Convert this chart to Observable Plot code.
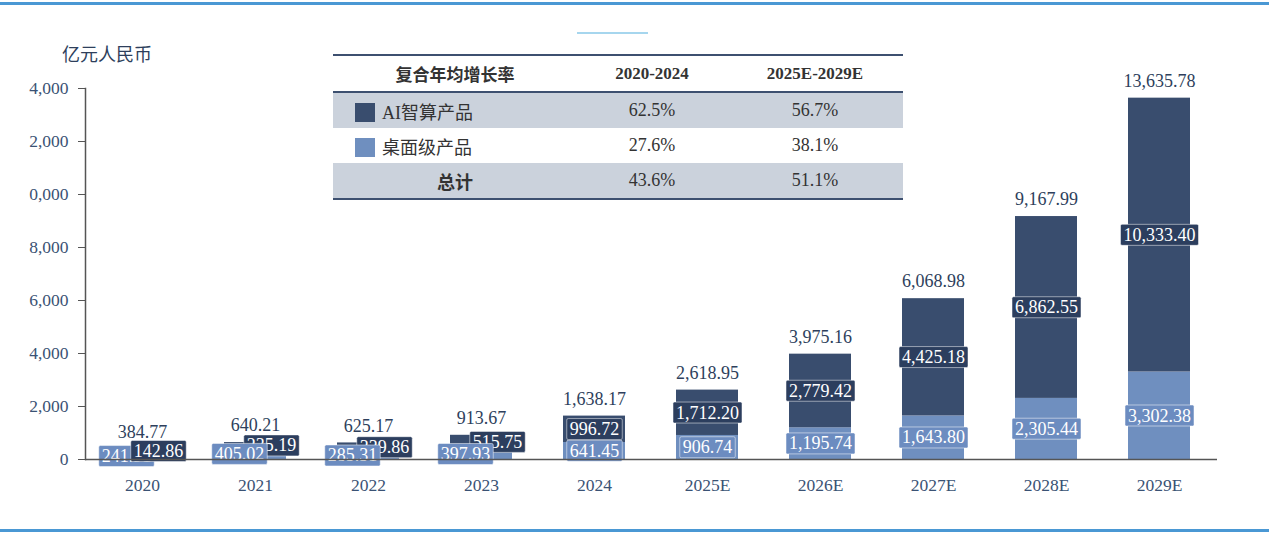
<!DOCTYPE html>
<html>
<head>
<meta charset="utf-8">
<script src="https://cdn.jsdelivr.net/npm/d3@7"></script>
<script src="https://cdn.jsdelivr.net/npm/@observablehq/plot@0.6"></script>
<style>
  html, body { margin: 0; padding: 0; background: #fff; }
  #wrap { position: relative; width: 1269px; height: 533px; overflow: hidden; font-family: "Liberation Serif", "Noto Sans CJK SC", serif; }
  #topline { position: absolute; left: 0; top: 2px; width: 1269px; height: 3px; background: #4a98d4; }
  #bottomline { position: absolute; left: 0; top: 529px; width: 1269px; height: 3px; background: #4a98d4; }
  #shortline { position: absolute; left: 577px; top: 32px; width: 71px; height: 2px; background: #a6d6ee; }
  #ylabel { position: absolute; left: 62px; top: 40px; font-size: 18px; color: #2e3f5c; font-family: "Noto Sans CJK SC", serif; }
  #chart { position: absolute; left: 0; top: 0; }
  #chart svg g[aria-label="y-axis tick"] path { stroke: #555; }
  #cagr { position: absolute; left: 333px; top: 54px; width: 570px; border-collapse: collapse; font-size: 18px; color: #333; }
  #cagr td { height: 35px; padding: 0; text-align: center; font-family: "Liberation Serif", "Noto Sans CJK SC", serif; }
  #cagr tr.head td { border-top: 2px solid #3d5070; border-bottom: 2px solid #3d5070; font-weight: bold; font-size: 17px; }
  #cagr tr.last td { border-bottom: 2px solid #3d5070; }
  #cagr tr.shade td { background: #cbd2dc; }
  #cagr td.name { text-align: left; padding-left: 22px; }
  #cagr td.name span.sw { display: inline-block; width: 20px; height: 19px; vertical-align: -3px; margin-right: 7px; }
  #cagr td.total { text-align: center; font-weight: bold; }
</style>
</head>
<body>
<div id="wrap">
  <div id="topline"></div>
  <div id="shortline"></div>
  <div id="ylabel"></div>
  <div id="chart"></div>
  <table id="cagr"></table>
  <div id="bottomline"></div>
</div>
<script>
// ---- data ----
const years = ["2020", "2021", "2022", "2023", "2024", "2025E", "2026E", "2027E", "2028E", "2029E"];
const aiValues = [142.86, 235.19, 339.86, 515.75, 996.72, 1712.20, 2779.42, 4425.18, 6862.55, 10333.40];
const desktopValues = [241.91, 405.02, 285.31, 397.93, 641.45, 906.74, 1195.74, 1643.80, 2305.44, 3302.38];
const totalValues = [384.77, 640.21, 625.17, 913.67, 1638.17, 2618.95, 3975.16, 6068.98, 9167.99, 13635.78];
const seriesNames = ["AI智算产品", "桌面级产品"];
const yTicks = [0, 2000, 4000, 6000, 8000, 10000, 12000, 14000];
const yTickLabels = ["0", "2,000", "4,000", "6,000", "8,000", "0,000", "2,000", "4,000"];
const yUnit = "亿元人民币";
const cagrHeader = ["复合年均增长率", "2020-2024", "2025E-2029E"];
const cagrRows = ["AI智算产品", "桌面级产品", "总计"];
const cagr2020_2024 = ["62.5%", "27.6%", "43.6%"];
const cagr2025_2029 = ["56.7%", "38.1%", "51.1%"];

// ---- styles ----
const darkColor = "#394d6e";
const lightColor = "#6f8fbf";
const darkBox = "#2c3e5e";
const lightBox = "#6c8cc0";
const textColor = "#2e3f5c";
const axisColor = "#3a5274";

// ---- table & unit label ----
document.getElementById("ylabel").textContent = yUnit;
const tbl = document.getElementById("cagr");
const swatch = [darkColor, lightColor];
let html = `<colgroup><col style="width:244px"><col style="width:150px"><col style="width:176px"></colgroup>`;
html += `<tr class="head"><td>${cagrHeader[0]}</td><td>${cagrHeader[1]}</td><td>${cagrHeader[2]}</td></tr>`;
cagrRows.forEach((r, i) => {
  const cls = (i % 2 === 0 ? "shade" : "") + (i === cagrRows.length - 1 ? " last" : "");
  const first = i < 2
    ? `<td class="name"><span class="sw" style="background:${swatch[i]}"></span>${r}</td>`
    : `<td class="total">${r}</td>`;
  html += `<tr class="${cls}">${first}<td>${cagr2020_2024[i]}</td><td>${cagr2025_2029[i]}</td></tr>`;
});
tbl.innerHTML = html;

// ---- rows for Plot ----
const rows = [];
years.forEach((y, i) => {
  rows.push({i, year: y, series: seriesNames[1], value: desktopValues[i], mid: desktopValues[i] / 2});
});
years.forEach((y, i) => {
  rows.push({i, year: y, series: seriesNames[0], value: aiValues[i], mid: desktopValues[i] + aiValues[i] / 2});
});
const desk = rows.filter(d => d.series === seriesNames[1]);
const ai = rows.filter(d => d.series === seriesNames[0]);
const totals = years.map((y, i) => ({year: y, value: totalValues[i]}));
const fmt = d3.format(",.2f");
const early = d => d.i <= 3;

const labelOpts = (extra) => Object.assign({
  x: "year", y: "mid", text: d => fmt(d.value), fill: "white",
  fontSize: 18, fontFamily: "Liberation Serif"
}, extra);

// order of the label marks (used to put boxes behind them)
const labelKinds = ["ai", "desk", "ai", "desk", "ai"];

const chart = Plot.plot({
  width: 1269,
  height: 533,
  marginTop: 88,
  marginBottom: 74,
  marginLeft: 85,
  marginRight: 52,
  style: {fontFamily: "Liberation Serif", fontSize: "17.5px", color: axisColor, background: "transparent"},
  x: {domain: years, paddingInner: 0.45, paddingOuter: 0.225, label: null, tickSize: 0, tickPadding: 19},
  y: {domain: [0, 14000], ticks: yTicks, tickFormat: d => yTickLabels[yTicks.indexOf(d)], tickSize: 7, tickPadding: 10, label: null},
  color: {domain: seriesNames, range: [darkColor, lightColor]},
  marks: [
    Plot.barY(rows, Plot.stackY({x: "year", y: "value", fill: "series", order: seriesNames.slice().reverse()})),
    Plot.text(ai.filter(d => d.i >= 1 && d.i <= 3), labelOpts({dx: 16})),
    Plot.text(desk.filter(early), labelOpts({dx: -16})),
    Plot.text(ai.filter(d => d.i === 0), labelOpts({dx: 16})),
    Plot.text(desk.filter(d => !early(d)), labelOpts({})),
    Plot.text(ai.filter(d => !early(d)), labelOpts({})),
    Plot.text(totals, {x: "year", y: "value", text: d => fmt(d.value), dy: -17, fill: textColor, fontSize: 18, fontFamily: "Liberation Serif"}),
    Plot.ruleY([0], {stroke: "#555", strokeWidth: 1.5}),
    Plot.frame({anchor: "left", stroke: "#555", strokeWidth: 1.5})
  ]
});
document.getElementById("chart").appendChild(chart);

// boxes behind the in-bar labels
const svgNS = "http://www.w3.org/2000/svg";
const textGroups = Array.from(chart.querySelectorAll("g")).filter(g => {
  const kids = Array.from(g.children);
  return kids.length > 0 && kids.every(k => k.tagName.toLowerCase() === "text") && g.getAttribute("fill") === "white";
});
textGroups.forEach((g, gi) => {
  const kind = labelKinds[gi] || "ai";
  const col = kind === "ai" ? darkBox : lightBox;
  Array.from(g.children).forEach(t => {
    const b = t.getBBox();
    const r = document.createElementNS(svgNS, "rect");
    r.setAttribute("x", b.x - 3);
    r.setAttribute("y", b.y - 0.5);
    r.setAttribute("width", b.width + 6);
    r.setAttribute("height", b.height + 1);
    r.setAttribute("fill", col);
    r.setAttribute("stroke", "rgba(255,255,255,0.5)");
    r.setAttribute("stroke-width", "1");
    r.setAttribute("rx", "1.5");
    const tr = t.getAttribute("transform");
    if (tr) r.setAttribute("transform", tr);
    g.insertBefore(r, t);
  });
});
</script>
</body>
</html>
